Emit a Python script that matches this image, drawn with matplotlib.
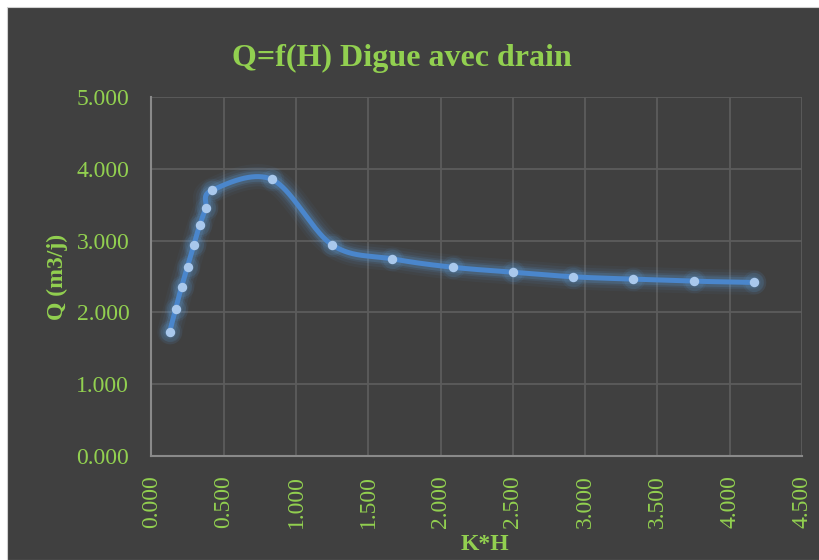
import numpy as np
import matplotlib.pyplot as plt
from matplotlib.patches import Rectangle

# K*H values and the matching discharge Q (m3/j)
kh = [0.125, 0.167, 0.208, 0.250, 0.292, 0.333, 0.375, 0.417,
      0.833, 1.250, 1.667, 2.083, 2.500, 2.917, 3.333, 3.750, 4.167]
q = [1.726, 2.051, 2.357, 2.639, 2.935, 3.213, 3.449, 3.699,
     3.852, 2.940, 2.746, 2.629, 2.560, 2.496, 2.463, 2.435, 2.417]

x_ticks = np.arange(0, 4.51, 0.5)
y_ticks = np.arange(0, 5.01, 1.0)

GREEN = '#92D050'
BG = '#404040'
LINE = '#4A86CC'
MARK = '#A9C8EC'


def smooth_line(x, y, n=40):
    # cubic bezier through every point (spreadsheet style smoothed line)
    pts = np.column_stack([x, y])
    ext = np.vstack([pts[0], pts, pts[-1]])
    t = np.linspace(0, 1, n)[:, None]
    segs = []
    for i in range(len(pts) - 1):
        p0, p1, p2, p3 = ext[i], ext[i + 1], ext[i + 2], ext[i + 3]
        c1 = p1 + (p2 - p0) / 6
        c2 = p2 - (p3 - p1) / 6
        segs.append((1 - t) ** 3 * p1 + 3 * (1 - t) ** 2 * t * c1
                    + 3 * (1 - t) * t ** 2 * c2 + t ** 3 * p2)
    return np.vstack(segs)


plt.rcParams['font.family'] = ['Liberation Serif', 'DejaVu Serif']

fig = plt.figure(figsize=(8.2, 5.6), dpi=100, facecolor='white')
fig.patches.append(Rectangle((7 / 820, 0), 1, 1 - 7 / 560, transform=fig.transFigure,
                             facecolor=BG, edgecolor='#d0d0d0', lw=0.8, zorder=-10))

ax = fig.add_axes([151.5 / 820, 1 - 456 / 560, (802 - 151.5) / 820, (456 - 97) / 560])
ax.set_facecolor(BG)

curve = smooth_line(kh, q)
# soft glow under the line
for lw, a in [(18, 0.05), (14, 0.08), (10, 0.12), (7.5, 0.2)]:
    ax.plot(curve[:, 0], curve[:, 1], color='#5B9BD5', lw=lw, alpha=a,
            solid_capstyle='round', zorder=2)
for ms, a in [(17, 0.08), (14, 0.12)]:
    ax.plot(kh, q, 'o', ms=ms, color='#5B9BD5', alpha=a, mec='none', zorder=2)
ax.plot(curve[:, 0], curve[:, 1], color=LINE, lw=3.6, solid_capstyle='round', zorder=3)
ax.plot(kh, q, 'o', ms=6.8, color=MARK, mec='none', zorder=4)

ax.set_xlim(0, 4.5)
ax.set_ylim(0, 5)
ax.set_xticks(x_ticks)
ax.set_yticks(y_ticks)
ax.set_xticklabels([f'{v:.3f}' for v in x_ticks], rotation=90, fontsize=17, color=GREEN)
ax.set_yticklabels([f'{v:.3f}' for v in y_ticks], fontsize=17, color=GREEN)
ax.tick_params(length=0, pad=14)
ax.tick_params(axis='y', pad=16)
ax.grid(True, color='#5c5c5c', lw=1.3)
ax.set_axisbelow(True)
for s in ['top', 'right']:
    ax.spines[s].set_visible(False)
for s in ['left', 'bottom']:
    ax.spines[s].set_color('#8a8a8a')
    ax.spines[s].set_linewidth(1.5)

fig.text(402 / 820, 1 - 58 / 560, 'Q=f(H) Digue avec drain', ha='center', va='center',
         fontsize=23, fontweight='bold', color=GREEN)
fig.text(485 / 820, 1 - 544 / 560, 'K*H', ha='center', va='center',
         fontsize=17, fontweight='bold', color=GREEN)
fig.text(57 / 820, 1 - 277 / 560, 'Q (m3/j)', ha='center', va='center', rotation=90,
         fontsize=17, fontweight='bold', color=GREEN)

fig.savefig('out.png', dpi=100, facecolor=fig.get_facecolor())
